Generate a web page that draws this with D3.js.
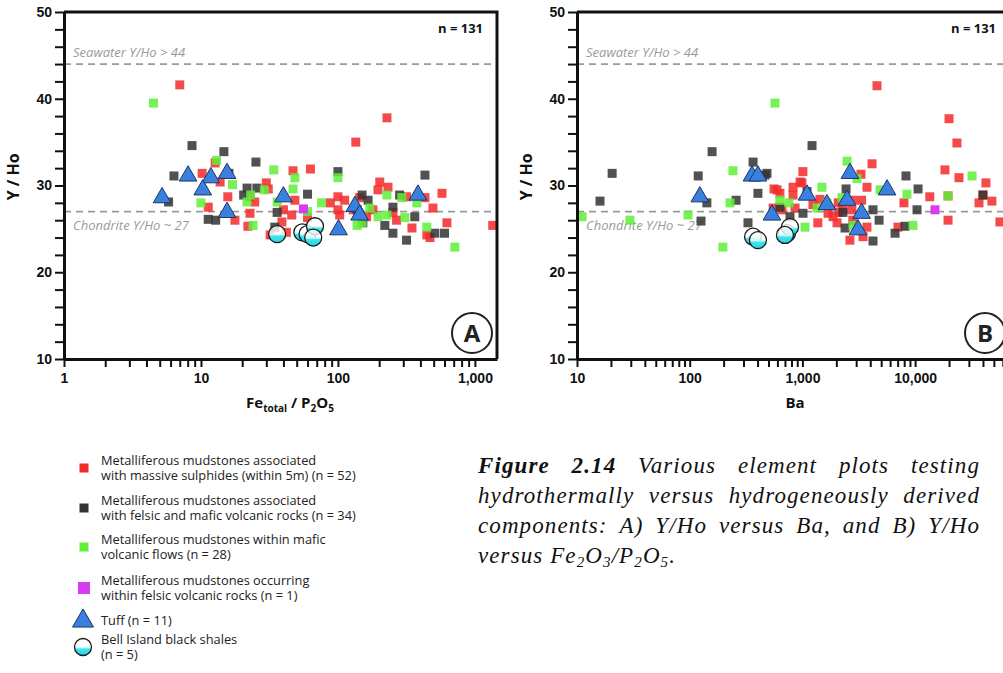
<!DOCTYPE html>
<html>
<head>
<meta charset="utf-8">
<title>Y/Ho plots</title>
<script src="https://d3js.org/d3.v7.min.js"></script>
<style>
  body { margin: 0; background: #fff; }
  svg { display: block; font-family: "Open Sans", sans-serif; }
  .axis .tick text { font-weight: 700; font-size: 14px; fill: #111; }
</style>
</head>
<body>
<svg width="1003" height="673"></svg>
<script>
// ---- panel A: Fe_total/P2O5 vs Y/Ho ----
const redA = [[7.0,41.6],[228,37.8],[135,35.0],[12.7,32.6],[10.2,31.4],[13.8,30.4],[15.7,28.7],[11.3,27.5],
  [17.7,26.0],[22.8,26.8],[22,25.3],[30,30.3],[24.7,28.1],[47,31.7],[63,31.9],[48.5,28.3],[40,27.2],[46,26.6],
  [39,25.8],[32,24.3],[60,26.3],[88,28.0],[100,28.7],[112,28.3],[144,28.6],[129,27.2],[162,26.4],[202,30.4],
  [232,29.8],[196,29.5],[252,26.9],[268,26.0],[347,25.1],[317,28.7],[432,28.6],[494,27.4],[575,29.1],[625,25.7],
  [446,24.3],[470,24.0],[1350,25.4],[31,29.6],[103,26.6],[180,27.2],[22.8,28.7],[42,24.6],[100,27.2]];
const blackA = [[8.6,34.6],[14.7,33.9],[25.2,32.7],[6.35,31.1],[16,31.4],[100,31.6],[432,31.2],[5.8,28.1],
  [21.7,29.7],[25.6,29.7],[20.5,28.9],[60,29.0],[11.3,26.1],[12.8,26.0],[36,26.9],[34.6,25.2],[166,28.3],
  [138,27.2],[152,25.7],[220,25.4],[252,24.5],[317,23.7],[282,28.9],[364,26.4],[510,24.5],[600,24.5],
  [252,27.5],[150,28.9]];
const greenA = [[4.5,39.5],[13,32.9],[17,30.1],[10,28.0],[23,28.9],[29,29.5],[34,31.8],[48.5,30.9],[47,29.6],
  [36,28.1],[24,25.4],[100,30.9],[76,28.0],[60,27.0],[138,25.4],[150,25.7],[171,27.4],[196,26.4],[228,26.6],
  [228,28.9],[308,26.3],[293,28.6],[377,28.0],[446,25.2],[714,22.9],[21.7,28.1]];
const pinkA = [[56,27.3]];
const tuffA = [[5.2,28.6],[8.05,31.1],[11.8,30.9],[10.3,29.5],[15.5,31.4],[15.5,26.9],[40,28.7],[101,24.9],
  [133,27.6],[144,26.6],[384,28.9]];
const shaleA = [[36,24.4],[55,24.6],[60,24.4],[68,25.3],[66,24.0]];

// ---- panel B: Ba vs Y/Ho ----
const redB = [[4590,41.5],[20000,37.7],[23500,34.9],[18400,31.8],[24500,30.9],[42500,30.3],[4150,32.5],
  [3310,31.3],[3740,29.8],[1010,31.6],[826,29.8],[990,30.3],[560,29.6],[632,29.1],[13500,28.7],[19600,26.0],
  [7960,28.0],[7050,25.2],[36900,28.0],[48000,28.2],[56600,25.8],[2640,23.7],[1370,25.7],[2030,25.7],
  [1690,26.8],[2290,27.2],[2800,26.0],[3450,24.1],[3740,25.2],[1870,26.4],[2110,26.9],[596,29.5],[659,27.2],
  [826,28.9],[953,30.4],[1430,28.4],[1240,27.8],[2810,28.3],[3350,28.3],[2750,27.2],[40000,28.9],[19600,28.8],
  [550,27.4],[860,27.4],[2080,28.0]];
const blackB = [[16,28.2],[20.5,31.4],[158,33.9],[119,31.1],[142,28.0],[126,25.9],[365,32.7],[403,29.1],
  [258,28.3],[329,25.7],[466,31.2],[1217,34.6],[485,31.4],[632,27.5],[776,26.4],[1012,26.8],[1099,29.3],
  [2440,29.6],[2290,26.9],[2390,25.1],[4230,27.2],[4790,26.0],[4230,23.6],[6640,24.5],[8130,25.3],[8300,31.1],
  [10620,29.6],[10400,27.2],[40000,28.9]];
const greenB = [[11.1,26.4],[29.5,26.0],[96.6,26.6],[197,22.9],[228,28.0],[242,31.7],[571,39.5],[1490,29.8],
  [2490,32.8],[3050,30.8],[4890,29.5],[8470,29.0],[32000,31.1],[9570,25.4],[1055,25.2],[632,28.3],[1350,27.4],
  [2240,28.6],[2810,25.4],[19600,28.8],[1650,28.0],[760,28.0]];
const pinkB = [[15000,27.2]];
const tuffB = [[123,28.7],[357,31.1],[403,31.1],[1099,28.9],[2640,31.4],[5640,29.5],[537,26.6],[1650,27.8],
  [3350,26.8],[3110,24.9],[2490,28.3]];
const shaleB = [[365,24.1],[403,23.7],[730,24.5],[776,25.2],[700,24.3]];

const yTicks = [10, 20, 30, 40, 50];
const xTicksA = [1, 10, 100, 1000];
const xTicksB = [10, 100, 1000, 10000, 100000];
const refLines = [{v: 44, label: "Seawater Y/Ho > 44"}, {v: 27, label: "Chondrite Y/Ho ~ 27"}];
const legendLabels = [
  ["Metalliferous mudstones associated", "with massive sulphides (within 5m) (n = 52)"],
  ["Metalliferous mudstones associated", "with felsic and mafic volcanic rocks (n = 34)"],
  ["Metalliferous mudstones within mafic", "volcanic flows (n = 28)"],
  ["Metalliferous mudstones occurring", "within felsic volcanic rocks (n = 1)"],
  ["Tuff (n = 11)"],
  ["Bell Island black shales", "(n = 5)"]
];

const col = {red: "#f42a2a", black: "#333333", green: "#5fef38", pink: "#d83cf0", tuff: "#3a80e0", shale: "#3ee6ee"};

const svg = d3.select("svg");
const defs = svg.append("defs");
const grad = defs.append("linearGradient").attr("id", "shale").attr("x1", 0).attr("y1", 0).attr("x2", 0).attr("y2", 1);
grad.append("stop").attr("offset", "0%").attr("stop-color", "#fff").attr("stop-opacity", 0.8);
grad.append("stop").attr("offset", "46%").attr("stop-color", "#fff").attr("stop-opacity", 0.8);
grad.append("stop").attr("offset", "54%").attr("stop-color", "#c8f8fa");
grad.append("stop").attr("offset", "62%").attr("stop-color", col.shale);
grad.append("stop").attr("offset", "100%").attr("stop-color", "#28d4de");

const plotTop = 12, plotBottom = 359;
const y = d3.scaleLinear().domain([10, 50]).range([plotBottom, plotTop]);

const panels = [
  {id: "A", x0: 64, x1: 497, domain: [1, 1450], majors: xTicksA,
   red: redA, black: blackA, green: greenA, pink: pinkA, tuff: tuffA, shale: shaleA},
  {id: "B", x0: 577, x1: 1010, domain: [10, 69500], majors: xTicksB,
   red: redB, black: blackB, green: greenB, pink: pinkB, tuff: tuffB, shale: shaleB}
];

const tri = d3.symbol(d3.symbolTriangle, 135);

panels.forEach(p => {
  const x = d3.scaleLog().domain(p.domain).range([p.x0, p.x1]);
  const g = svg.append("g");

  // reference lines
  refLines.forEach((r, i) => {
    g.append("line").attr("x1", p.x0).attr("x2", p.x1).attr("y1", y(r.v)).attr("y2", y(r.v))
      .attr("stroke", "#999").attr("stroke-width", 1.8).attr("stroke-dasharray", "7,5");
    g.append("text").attr("x", p.x0 + 9).attr("y", i === 0 ? y(r.v) - 7 : y(r.v) + 18)
      .attr("font-style", "italic").attr("font-size", 13).attr("fill", "#9a9a9a").text(r.label);
  });

  // squares
  [["red", p.red], ["black", p.black], ["green", p.green], ["pink", p.pink]].forEach(([k, data]) => {
    g.selectAll(null).data(data).join("rect")
      .attr("x", d => x(d[0]) - 4.5).attr("y", d => y(d[1]) - 4.5)
      .attr("width", 9).attr("height", 9)
      .attr("fill", col[k]).attr("opacity", k === "pink" ? 1 : 0.85);
  });

  // tuff triangles
  g.selectAll(null).data(p.tuff).join("path")
    .attr("d", tri).attr("transform", d => `translate(${x(d[0])},${y(d[1])})`)
    .attr("fill", col.tuff).attr("stroke", "#1c3560").attr("stroke-width", 1);

  // black shale circles
  g.selectAll(null).data(p.shale).join("circle")
    .attr("cx", d => x(d[0])).attr("cy", d => y(d[1])).attr("r", 8.5)
    .attr("fill", "url(#shale)").attr("stroke", "#1a1a1a").attr("stroke-width", 1.3);

  // axes
  const xAxis = d3.axisBottom(x).tickValues(x.ticks())
    .tickFormat(d => p.majors.includes(d) ? d3.format(",")(d) : "")
    .tickSize(8).tickSizeOuter(0).tickPadding(6);
  const ax = g.append("g").attr("class", "axis").attr("transform", `translate(0,${plotBottom})`).call(xAxis);
  const yAxis = d3.axisLeft(y).tickValues(d3.range(10, 51, 2))
    .tickFormat(d => yTicks.includes(d) ? d : "").tickSize(9).tickSizeOuter(0).tickPadding(3);
  const ay = g.append("g").attr("class", "axis").attr("transform", `translate(${p.x0},0)`).call(yAxis);
  [ax, ay].forEach(a => {
    a.select(".domain").attr("stroke", "#111").attr("stroke-width", 3);
    a.selectAll(".tick line").attr("stroke", "#111").attr("stroke-width", 2);
  });

  // frame top and right
  g.append("path").attr("d", `M${p.x0},${plotTop}H${p.x1}V${plotBottom}`)
    .attr("fill", "none").attr("stroke", "#111").attr("stroke-width", 3);

  g.append("text").attr("x", p.x1 - 14).attr("y", 33).attr("text-anchor", "end")
    .attr("font-weight", 700).attr("font-size", 13).attr("fill", "#111").text("n = 131");

  // panel letter
  const cx = p.x1 - 25, cy = 333;
  g.append("circle").attr("cx", cx).attr("cy", cy).attr("r", 20)
    .attr("fill", "#fff").attr("stroke", "#222").attr("stroke-width", 2);
  g.append("text").attr("x", cx).attr("y", cy).attr("dy", "0.36em").attr("text-anchor", "middle")
    .attr("font-weight", 700).attr("font-size", 24).attr("fill", "#222").text(p.id);

  // y label
  g.append("text").attr("transform", `translate(${p.x0 - 45},${y(31)}) rotate(-90)`)
    .attr("text-anchor", "middle").attr("font-weight", 700).attr("font-size", 16).attr("fill", "#111")
    .text("Y / Ho");
});

// x labels
const xlA = svg.append("text").attr("x", 290).attr("y", 408).attr("text-anchor", "middle")
  .attr("font-weight", 700).attr("font-size", 15).attr("fill", "#111");
xlA.append("tspan").text("Fe");
xlA.append("tspan").attr("font-size", 10).attr("dy", 4).text("total");
xlA.append("tspan").attr("dy", -4).text(" / P");
xlA.append("tspan").attr("font-size", 10).attr("dy", 4).text("2");
xlA.append("tspan").attr("dy", -4).text("O");
xlA.append("tspan").attr("font-size", 10).attr("dy", 4).text("5");
svg.append("text").attr("x", 795).attr("y", 408).attr("text-anchor", "middle")
  .attr("font-weight", 700).attr("font-size", 15).attr("fill", "#111").text("Ba");

// legend
const legY = [468, 508, 547, 588, 621, 647];
const lg = svg.append("g").attr("font-size", 12.8).attr("fill", "#222");
legendLabels.forEach((lines, i) => {
  const cy = legY[i];
  if (i < 4) {
    const k = ["red", "black", "green", "pink"][i];
    const s = i === 3 ? 12 : 9;
    lg.append("rect").attr("x", 84 - s / 2).attr("y", cy - s / 2).attr("width", s).attr("height", s).attr("fill", col[k]);
  } else if (i === 4) {
    lg.append("path").attr("d", d3.symbol(d3.symbolTriangle, 190)()).attr("transform", `translate(83,${cy})`)
      .attr("fill", col.tuff).attr("stroke", "#1c3560");
  } else {
    lg.append("circle").attr("cx", 83).attr("cy", cy).attr("r", 8.5)
      .attr("fill", "url(#shale)").attr("stroke", "#1a1a1a").attr("stroke-width", 1.3);
  }
  const first = lines.length === 2 ? cy - 3 : cy + 4;
  const t = lg.append("text").attr("y", first);
  lines.forEach((s, j) => {
    t.append("tspan").attr("x", 101).attr("dy", j === 0 ? 0 : 15).text(s);
  });
});

// caption, justified by hand
const capX0 = 478, capX1 = 980;
const cap = svg.append("g").attr("font-family", "'Liberation Serif', serif").attr("font-style", "italic")
  .attr("font-size", 23).attr("letter-spacing", 1.1).attr("fill", "#111");
const capLines = [
  [["Figure", 1], ["2.14", 1], ["Various"], ["element"], ["plots"], ["testing"]],
  [["hydrothermally"], ["versus"], ["hydrogeneously"], ["derived"]],
  [["components:"], ["A)"], ["Y/Ho"], ["versus"], ["Ba,"], ["and"], ["B)"], ["Y/Ho"]]
];
capLines.forEach((words, li) => {
  const yy = 473 + li * 30;
  const nodes = words.map(w => cap.append("text").attr("y", yy)
    .attr("font-weight", w[1] ? 700 : 400).text(w[0]));
  const widths = nodes.map(n => n.node().getComputedTextLength());
  const gap = (capX1 - capX0 - d3.sum(widths)) / (nodes.length - 1);
  let xx = capX0;
  nodes.forEach((n, i) => { n.attr("x", xx); xx += widths[i] + gap; });
});
const last = cap.append("text").attr("x", capX0).attr("y", 473 + 3 * 30);
[["versus Fe"], ["2", 1], ["O"], ["3", 1], ["/P"], ["2", 1], ["O"], ["5", 1], ["."]].forEach(([t, sub], i, arr) => {
  const prevSub = i > 0 && arr[i - 1][1];
  last.append("tspan").attr("font-size", sub ? 15 : 23)
    .attr("dy", sub ? 4 : (prevSub ? -4 : 0)).text(t);
});
</script>
</body>
</html>
